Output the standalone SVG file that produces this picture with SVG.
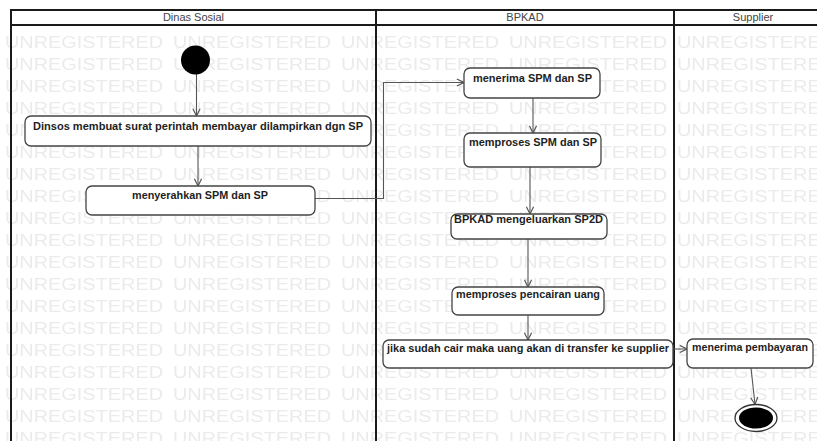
<svg xmlns="http://www.w3.org/2000/svg" width="817" height="441" viewBox="0 0 817 441">
  <style>
    .lane { fill: none; stroke: #1a1a1a; stroke-width: 2; }
    .hdr { font-family: "Liberation Sans", Arial, sans-serif; font-size: 11px; fill: #444; text-anchor: middle; }
    .act { fill: #fff; stroke: #444; stroke-width: 1.3; }
    .lbl { font-family: "Liberation Sans", Arial, sans-serif; font-size: 10.7px; font-weight: bold; fill: #1e1e1e; text-anchor: middle; }
    .flow { fill: none; stroke: #555; stroke-width: 1.1; marker-end: url(#open); }
    .wm { font-family: "Liberation Sans", Arial, sans-serif; font-size: 16px; fill: #ebebeb; }
  </style>
  <defs>
    <marker id="open" viewBox="0 0 10 10" refX="9" refY="5" markerWidth="9" markerHeight="9" markerUnits="userSpaceOnUse" orient="auto">
      <path d="M1,1 L9,5 L1,9" fill="none" stroke="#555" stroke-width="1.3"/>
    </marker>
    <pattern id="wmTile" patternUnits="userSpaceOnUse" x="5" y="33" width="168" height="22">
      <text class="wm" x="0" y="14.5" textLength="158" lengthAdjust="spacingAndGlyphs">UNREGISTERED</text>
    </pattern>
  </defs>

  <rect width="817" height="441" fill="#fff"/>
  <!-- repeated tool watermark behind the swimlanes -->
  <rect x="0" y="26" width="817" height="415" fill="url(#wmTile)"/>

  <!-- swimlane frame -->
  <g id="swimlanes">
    <rect class="lane" x="11" y="10" width="822" height="440"/>
    <line class="lane" x1="11" y1="25" x2="833" y2="25"/>
    <line class="lane" x1="376" y1="10" x2="376" y2="441"/>
    <line class="lane" x1="674" y1="10" x2="674" y2="441"/>
    <text class="hdr" x="193.5" y="21">Dinas Sosial</text>
    <text class="hdr" x="525" y="21">BPKAD</text>
    <text class="hdr" x="753" y="21">Supplier</text>
  </g>

  <!-- control flows -->
  <g id="connectors">
    <line class="flow" x1="196.5" y1="74" x2="196.5" y2="116"/>
    <line class="flow" x1="198" y1="146" x2="198" y2="186"/>
    <polyline class="flow" points="315,198.5 383.5,198.5 383.5,82.5 464,82.5"/>
    <line class="flow" x1="533" y1="98" x2="533" y2="133"/>
    <line class="flow" x1="530" y1="167" x2="530" y2="214"/>
    <line class="flow" x1="528" y1="239" x2="528" y2="287"/>
    <line class="flow" x1="528" y1="315" x2="528" y2="340"/>
    <line class="flow" x1="673" y1="349" x2="687" y2="349"/>
    <line class="flow" x1="751" y1="368" x2="755" y2="404.5"/>
  </g>

  <g id="start">
    <circle cx="195.5" cy="60" r="14.5" fill="#000"/>
  </g>

  <g id="a1">
    <rect class="act" x="25" y="116" width="346" height="30" rx="6"/>
    <text class="lbl" x="198" y="130" textLength="330" lengthAdjust="spacingAndGlyphs">Dinsos membuat surat perintah membayar dilampirkan dgn SP</text>
  </g>

  <g id="a2">
    <rect class="act" x="86" y="186" width="229" height="29" rx="6"/>
    <text class="lbl" x="200" y="199" textLength="136" lengthAdjust="spacingAndGlyphs">menyerahkan SPM dan SP</text>
  </g>

  <g id="a3">
    <rect class="act" x="464" y="68" width="136" height="30" rx="6"/>
    <text class="lbl" x="532.5" y="82" textLength="119" lengthAdjust="spacingAndGlyphs">menerima SPM dan SP</text>
  </g>

  <g id="a4">
    <rect class="act" x="464" y="133" width="137" height="34" rx="6"/>
    <text class="lbl" x="533" y="146" textLength="128" lengthAdjust="spacingAndGlyphs">memproses SPM dan SP</text>
  </g>

  <g id="a5">
    <rect class="act" x="451" y="214" width="156" height="25" rx="6"/>
    <text class="lbl" x="528.5" y="223" textLength="149" lengthAdjust="spacingAndGlyphs">BPKAD mengeluarkan SP2D</text>
  </g>

  <g id="a6">
    <rect class="act" x="452" y="287" width="152" height="28" rx="6"/>
    <text class="lbl" x="528" y="298" textLength="144" lengthAdjust="spacingAndGlyphs">memproses pencairan uang</text>
  </g>

  <g id="a7">
    <rect class="act" x="383" y="340" width="290" height="28" rx="6"/>
    <text class="lbl" x="528" y="352" textLength="282" lengthAdjust="spacingAndGlyphs">jika sudah cair maka uang akan di transfer ke supplier</text>
  </g>

  <g id="a8">
    <rect class="act" x="687" y="339" width="126" height="29" rx="6"/>
    <text class="lbl" x="750" y="351" textLength="116" lengthAdjust="spacingAndGlyphs">menerima pembayaran</text>
  </g>

  <g id="end">
    <ellipse cx="756" cy="418" rx="21" ry="13.5" fill="#fff" stroke="#333" stroke-width="1.3"/>
    <ellipse cx="756" cy="418" rx="17" ry="10.5" fill="#000"/>
  </g>
</svg>
